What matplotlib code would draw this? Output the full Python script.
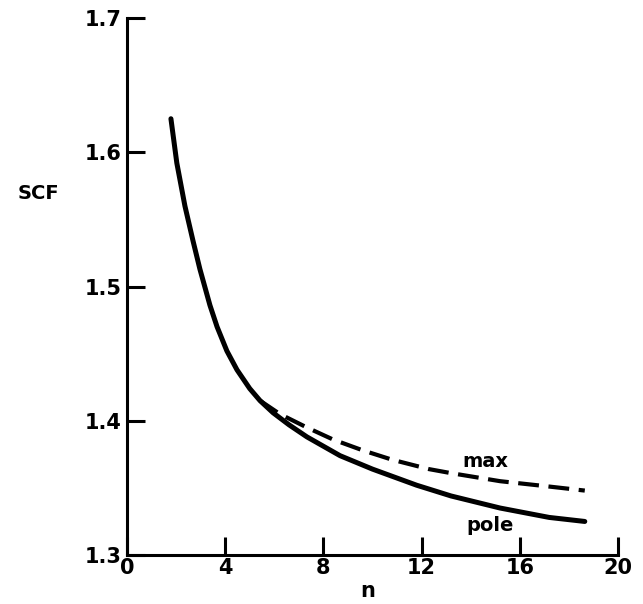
import matplotlib
matplotlib.use('Agg')
import matplotlib.pyplot as plt

# values
pole_n = [1.79, 2.03, 2.36, 2.69, 2.97, 3.38, 3.67, 4.07, 4.48, 5.0, 5.42,
          5.95, 6.6, 7.33, 8.68, 10.0, 11.8, 13.2, 15.2, 17.2, 18.65]
pole_scf = [1.625, 1.592, 1.560, 1.534, 1.513, 1.486, 1.470, 1.452, 1.438, 1.424, 1.415,
            1.406, 1.397, 1.388, 1.374, 1.364, 1.352, 1.344, 1.335, 1.328, 1.325]

max_n = [5.42, 6.23, 7.33, 8.4, 9.6, 10.8, 12.3, 13.2, 15.2, 17.2, 18.65]
max_scf = [1.415, 1.405, 1.395, 1.386, 1.378, 1.371, 1.364, 1.361, 1.355, 1.351, 1.348]

x_ticks = [0, 4, 8, 12, 16, 20]
y_ticks = [1.3, 1.4, 1.5, 1.6, 1.7]

plt.rcParams['font.family'] = 'DejaVu Sans'
plt.rcParams['font.weight'] = 'bold'

fig = plt.figure(figsize=(6.43, 6.04), dpi=100)
ax = fig.add_axes([0.1975, 0.0811, 0.7635, 0.889])

ax.plot(pole_n, pole_scf, color='black', lw=3.6,
        solid_capstyle='round', solid_joinstyle='round')
ax.plot(max_n, max_scf, color='black', lw=3.0, dashes=(5, 2.3))

ax.text(14.6, 1.370, 'max', fontsize=14, fontweight='bold', ha='center', va='center')
ax.text(14.8, 1.322, 'pole', fontsize=14, fontweight='bold', ha='center', va='center')

ax.set_xlim(0, 20)
ax.set_ylim(1.3, 1.7)
ax.set_xticks(x_ticks)
ax.set_yticks(y_ticks)
ax.set_xticklabels([str(t) for t in x_ticks])
ax.set_yticklabels([str(t) for t in y_ticks])

for s in ['top', 'right']:
    ax.spines[s].set_visible(False)
for s in ['left', 'bottom']:
    ax.spines[s].set_linewidth(2.2)

ax.tick_params(direction='in', length=13, width=2.2, labelsize=15)
ax.tick_params(axis='x', pad=2)
ax.tick_params(axis='y', pad=4)

fig.text(0.06, 0.68, 'SCF', fontsize=14, fontweight='bold', ha='center', va='center')
fig.text(0.572, 0.022, 'n', fontsize=15, fontweight='bold', ha='center', va='center')

fig.savefig('out.png', dpi=100)
